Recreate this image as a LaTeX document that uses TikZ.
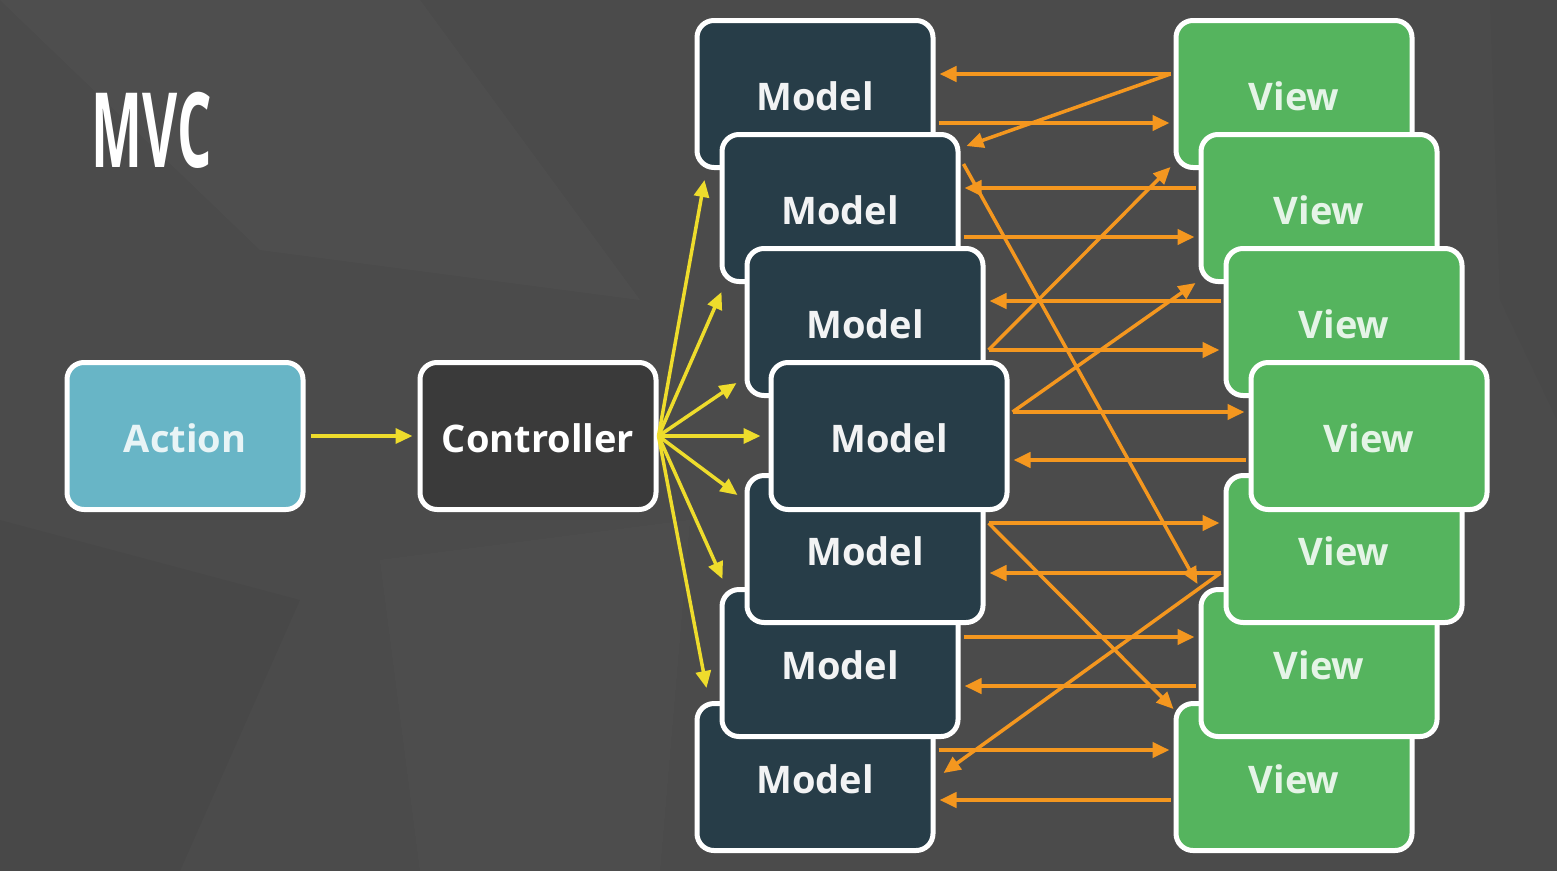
\documentclass[tikz,border=0pt]{standalone}
\usepackage{fontspec}
\setmainfont{Open Sans}
\usepackage{graphicx}
\usetikzlibrary{arrows.meta,calc}

\definecolor{bggray}{HTML}{4B4B4B}
\definecolor{modelfill}{HTML}{273D48}
\definecolor{viewfill}{HTML}{55B45E}
\definecolor{actionfill}{HTML}{68B5C6}
\definecolor{ctrlfill}{HTML}{3A3A3A}
\definecolor{arrowyellow}{HTML}{EEDC2C}
\definecolor{arroworange}{HTML}{F4971F}

\tikzset{
  box/.style={draw=white,line width=5pt,rounded corners=17pt,
    minimum width=236pt,minimum height=147pt,text=white,
    text height=33pt,text depth=0pt,
    font=\fontsize{38}{40}\selectfont\bfseries},
  model/.style={box,fill=modelfill,text=white!94!modelfill},
  view/.style={box,fill=viewfill,text=white!85!viewfill},
  actionbox/.style={box,fill=actionfill,text=white!85!actionfill},
  ctrlbox/.style={box,fill=ctrlfill},
  yarrow/.style={draw=arrowyellow,line width=3.5pt,
    -{Triangle[length=17pt,width=15pt]}},
  oarrow/.style={draw=arroworange,line width=4pt,
    -{Triangle[length=17pt,width=15pt]},shorten <=3pt,shorten >=4pt},
  odiag/.style={draw=arroworange,line width=3.5pt,
    -{Triangle[length=17pt,width=15pt]}}
}

\begin{document}
\begin{tikzpicture}[x=1pt,y=-1pt]
    % background
    \fill[bggray] (0,0) rectangle (1557,871);
    \useasboundingbox (0,0) rectangle (1557,871);
    \fill[white,opacity=0.018] (0,0) -- (420,0) -- (640,300) -- (260,250) -- cycle;
    \fill[black,opacity=0.03] (0,520) -- (300,600) -- (180,871) -- (0,871) -- cycle;
    \fill[white,opacity=0.015] (380,560) -- (690,520) -- (660,871) -- (420,871) -- cycle;
    \fill[black,opacity=0.025] (1490,0) -- (1557,0) -- (1557,420) -- (1500,300) -- cycle;

    % title
    \node[white,font=\fontsize{104}{104}\selectfont\bfseries] (title) at (152,130)
      {\scalebox{0.52}[1]{MVC}};

    % action and controller
    \node[actionbox] (action) at (185,436) {Action};
    \node[ctrlbox] (ctrl) at (538,436) {Controller};

    % models, upper half then lower half, middle one on top
    \node[model] (m1) at (815,94) {Model};
    \node[model] (m2) at (840,208) {Model};
    \node[model] (m3) at (865,322) {Model};
    \node[model] (m7) at (815,777) {Model};
    \node[model] (m6) at (840,663) {Model};
    \node[model] (m5) at (865,549) {Model};
    \node[model] (m4) at (889,436) {Model};

    % views
    \node[view] (v1) at (1294,94) {View};
    \node[view] (v2) at (1319,208) {View};
    \node[view] (v3) at (1344,322) {View};
    \node[view] (v7) at (1294,777) {View};
    \node[view] (v6) at (1319,663) {View};
    \node[view] (v5) at (1344,549) {View};
    \node[view] (v4) at (1369,436) {View};

    % yellow arrows
    \draw[yarrow,shorten <=5pt,shorten >=5pt] (action.east) -- (ctrl.west);
    \draw[yarrow] (ctrl.east) -- ([xshift=10pt,yshift=-10pt]m1.south west);
    \draw[yarrow] (ctrl.east) -- ([xshift=2pt,yshift=-8pt]m2.south west);
    \draw[yarrow] (ctrl.east) -- ([xshift=-8pt,yshift=15pt]m3.south west);
    \draw[yarrow,shorten >=8pt] (ctrl.east) -- (m4.west);
    \draw[yarrow] (ctrl.east) -- ([xshift=-7pt,yshift=-22pt]m5.north west);
    \draw[yarrow] (ctrl.east) -- ([xshift=3pt,yshift=8pt]m6.north west);
    \draw[yarrow] (ctrl.east) -- ([xshift=12pt,yshift=13pt]m7.north west);

    % orange arrows, model to view and back
    \draw[oarrow] ([yshift=20pt]v1.west) -- ([yshift=20pt]m1.east);
    \draw[oarrow] ([yshift=-29pt]m1.east) -- ([yshift=-29pt]v1.west);
    \draw[oarrow] ([yshift=20pt]v2.west) -- ([yshift=20pt]m2.east);
    \draw[oarrow] ([yshift=-29pt]m2.east) -- ([yshift=-29pt]v2.west);
    \draw[oarrow] ([yshift=21pt]v3.west) -- ([yshift=21pt]m3.east);
    \draw[oarrow] ([yshift=-28pt]m3.east) -- ([yshift=-28pt]v3.west);
    \draw[oarrow] ([yshift=24pt]m4.east) -- ([yshift=24pt]v4.west);
    \draw[oarrow] ([yshift=-24pt]v4.west) -- ([yshift=-24pt]m4.east);
    \draw[oarrow] ([yshift=26pt]m5.east) -- ([yshift=26pt]v5.west);
    \draw[oarrow] ([yshift=-24pt]v5.west) -- ([yshift=-24pt]m5.east);
    \draw[oarrow] ([yshift=26pt]m6.east) -- ([yshift=26pt]v6.west);
    \draw[oarrow] ([yshift=-23pt]v6.west) -- ([yshift=-23pt]m6.east);
    \draw[oarrow] ([yshift=27pt]m7.east) -- ([yshift=27pt]v7.west);
    \draw[oarrow] ([yshift=-23pt]v7.west) -- ([yshift=-23pt]m7.east);

    % crossing ones
    \draw[odiag] ([xshift=-3pt,yshift=20pt]v1.west) -- ([xshift=6pt,yshift=-14pt]m2.north east);
    \draw[odiag] ([xshift=3pt,yshift=44pt]m2.east) -- ([xshift=-1pt,yshift=3pt]v6.north west);
    \draw[odiag] ([xshift=3pt,yshift=-28pt]m3.east) -- ([xshift=-3pt,yshift=3pt]v1.south west);
    \draw[odiag] ([xshift=3pt,yshift=24pt]m4.east) -- ([xshift=-3pt,yshift=1pt]v2.south west);
    \draw[odiag] ([xshift=3pt,yshift=26pt]m5.east) -- ([yshift=-8pt]v7.north west);
    \draw[odiag] ([xshift=-3pt,yshift=-24pt]v5.west) -- ([xshift=8pt,yshift=4pt]m7.east);
\end{tikzpicture}
\end{document}
